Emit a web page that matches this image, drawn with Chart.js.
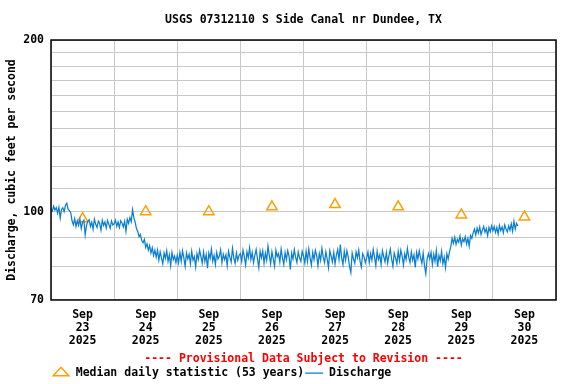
<!DOCTYPE html>
<html>
<head>
<meta charset="utf-8">
<script src="https://cdn.jsdelivr.net/npm/chart.js@4.4.1/dist/chart.umd.min.js"></script>
<style>
  html, body { margin:0; padding:0; background:#fff; }
  #wrap { width:576px; height:384px; }
</style>
</head>
<body>
<div id="wrap"><canvas id="chart" width="576" height="384"></canvas></div>
<script>
// ---- data ----
const chartTitle = "USGS 07312110 S Side Canal nr Dundee, TX";
const yTitle = "Discharge, cubic feet per second";
const provisionalNote = "---- Provisional Data Subject to Revision ----";
const medianLabel = "Median daily statistic (53 years)";
const dischargeLabel = "Discharge";

const monthLabel = "Sep";
const yearLabel = "2025";
const dayLabels = ["23", "24", "25", "26", "27", "28", "29", "30"];

const yTicks = [70, 80, 90, 100, 110, 120, 130, 140, 150, 160, 170, 180, 190, 200];
const yLabeled = [70, 100, 200];

// median daily statistic, one per day (plotted at noon)
const medianValues = [97.2, 100.0, 100.0, 102.0, 102.9, 102.0, 98.7, 97.9];

// discharge, 30-minute readings, one array per day
const stepDays = 0.5 / 24;
const dischargeSep23 = [
  101.2, 100.2, 102.2, 100.6, 101.7, 99.4, 101.8, 97.4, 100.9, 101.6, 100.0, 102.6, 103.4, 101.0, 100.4, 99.6,
  96.4, 94.8, 97.2, 94.2, 96.4, 94.6, 97.0, 93.4, 95.8, 96.6, 91.0, 94.6, 96.2, 96.8, 94.2, 95.8,
  93.2, 97.0, 95.0, 93.8, 96.2, 95.4, 92.8, 96.6, 94.6, 95.9, 93.6, 96.5, 95.0, 93.5, 96.3, 94.8
];
const dischargeSep24 = [
  95.2, 96.6, 94.2, 95.9, 93.8, 96.4, 95.5, 94.0, 96.2, 92.4, 97.0, 95.4, 97.6, 96.0, 100.8, 97.6,
  95.8, 93.4, 92.2, 90.4, 91.2, 89.0, 88.2, 89.4, 86.6, 87.8, 85.6, 87.2, 84.6, 86.4, 83.8, 85.6,
  83.2, 85.6, 82.2, 85.0, 83.0, 81.0, 84.6, 82.8, 85.4, 81.8, 84.0, 80.4, 84.8, 82.4, 83.6, 81.4
];
const dischargeSep25 = [
  83.8, 81.4, 84.8, 81.8, 85.4, 83.0, 80.2, 84.6, 82.6, 84.2, 81.0, 85.2, 82.2, 83.4, 80.0, 84.4,
  82.4, 85.6, 83.4, 81.2, 85.0, 81.8, 84.0, 79.6, 84.6, 82.8, 86.0, 81.8, 83.8, 80.8, 84.8, 82.6,
  83.6, 85.8, 81.4, 84.2, 82.4, 84.0, 80.4, 85.2, 83.2, 81.6, 86.2, 83.0, 81.2, 84.6, 82.2, 83.8
];
const dischargeSep26 = [
  84.4, 81.8, 85.6, 83.4, 80.6, 85.0, 83.0, 86.4, 82.4, 84.8, 81.4, 83.8, 85.8, 82.6, 79.8, 85.2,
  83.0, 85.4, 81.2, 84.6, 82.2, 87.0, 83.8, 81.0, 85.0, 82.6, 80.2, 85.6, 83.4, 84.4, 81.6, 86.0,
  83.0, 80.8, 84.8, 82.4, 85.4, 83.6, 79.2, 84.6, 82.6, 85.8, 83.2, 81.4, 85.0, 83.0, 81.8, 85.2
];
const dischargeSep27 = [
  83.6, 81.2, 85.2, 81.8, 86.0, 83.0, 80.6, 84.8, 82.4, 85.6, 83.8, 80.4, 84.4, 82.2, 86.2, 83.2,
  81.4, 85.0, 82.6, 79.8, 85.4, 83.6, 81.6, 84.8, 81.0, 84.0, 85.8, 82.4, 87.6, 83.0, 80.8, 85.2,
  82.2, 85.4, 83.2, 80.2, 78.2, 84.6, 82.6, 81.2, 85.0, 83.0, 85.6, 81.8, 80.0, 84.4, 83.4, 81.4
];
const dischargeSep28 = [
  83.0, 85.0, 81.4, 84.4, 82.2, 85.8, 83.2, 80.4, 85.2, 82.4, 84.0, 80.8, 85.4, 83.4, 81.6, 84.8,
  81.2, 83.8, 86.0, 82.6, 80.2, 84.6, 83.0, 81.0, 85.2, 82.0, 85.6, 83.6, 80.6, 84.4, 82.4, 86.2,
  83.2, 81.4, 85.0, 82.2, 84.0, 79.8, 84.8, 82.6, 85.4, 83.0, 81.2, 84.6, 80.4, 77.8, 82.6, 84.4
];
const dischargeSep29 = [
  82.6, 84.8, 80.8, 84.2, 81.8, 85.4, 80.0, 83.8, 82.0, 85.2, 81.0, 83.2, 79.8, 84.4, 82.6, 85.0,
  86.8, 89.8, 88.0, 90.2, 87.6, 89.4, 88.4, 90.6, 87.4, 89.6, 88.6, 90.4, 87.8, 89.8, 87.0, 90.8,
  89.8, 91.8, 93.2, 91.0, 93.6, 91.8, 94.0, 91.2, 92.8, 94.2, 92.0, 93.4, 90.8, 93.8, 92.2, 94.4
];
const dischargeSep30 = [
  92.6, 94.2, 92.0, 93.8, 91.4, 94.6, 92.6, 94.0, 91.8, 94.8, 93.2, 92.2, 94.4, 92.8, 95.2, 92.4,
  96.2, 93.2, 95.4, 94.4
];

// ---- styles ----
const FONT = { family: "'DejaVu Sans Mono', 'Liberation Mono', monospace", size: 11.5, weight: "bold", lineHeight: 1.15 };
const GRID = "#c8c8c8";
const BLUE = "#0a7fd2";
const ORANGE = "#ffa000";

const discharge = [].concat(dischargeSep23, dischargeSep24, dischargeSep25, dischargeSep26,
  dischargeSep27, dischargeSep28, dischargeSep29, dischargeSep30);
const dischargePts = discharge.map((v, i) => ({ x: i * stepDays, y: v }));
const medianPts = medianValues.map((v, i) => ({ x: i + 0.5, y: v }));

const isHalf = v => Math.abs(v - Math.floor(v) - 0.5) < 1e-6;

// black frame round the plot area
const framePlugin = {
  id: "frame",
  afterDraw(chart) {
    const a = chart.chartArea, ctx = chart.ctx;
    ctx.save();
    ctx.strokeStyle = "#000";
    ctx.lineWidth = 1.5;
    ctx.strokeRect(a.left, a.top, a.right - a.left, a.bottom - a.top);
    ctx.restore();
  }
};

new Chart(document.getElementById("chart"), {
  type: "line",
  data: {
    datasets: [
      {
        label: medianLabel, data: medianPts, order: 1,
        showLine: false, pointStyle: "triangle", pointRadius: 6, pointHoverRadius: 6,
        borderColor: ORANGE, backgroundColor: "rgba(0,0,0,0)", pointBorderWidth: 1.5
      },
      {
        label: dischargeLabel, data: dischargePts, order: 0,
        borderColor: BLUE, backgroundColor: BLUE, borderWidth: 1.25,
        pointRadius: 0, pointStyle: "line", tension: 0
      }
    ]
  },
  options: {
    responsive: false,
    animation: false,
    devicePixelRatio: 1,
    // legend box carries a fixed 10px tail, let it run just past the bottom edge
    layout: { padding: { left: 0, right: 20, top: 0, bottom: -4.75 } },
    plugins: {
      title: {
        display: true, text: chartTitle, color: "#000", font: FONT,
        fullSize: false, padding: { top: 13.4, bottom: 13.4 }
      },
      subtitle: {
        display: true, text: provisionalNote, color: "#ff0000", font: FONT,
        position: "bottom", fullSize: false, weight: 500, padding: { top: 4.4, bottom: 0.65 }
      },
      legend: {
        position: "bottom", fullSize: false, align: "start",
        labels: {
          usePointStyle: true, pointStyleWidth: 18, boxHeight: 8, padding: 1,
          color: "#000", font: FONT,
          sort: (a, b) => a.datasetIndex - b.datasetIndex
        }
      },
      tooltip: { enabled: false }
    },
    scales: {
      x: {
        type: "linear", min: 0, max: dayLabels.length,
        afterFit: s => { s.height = 48; },
        border: { display: false },
        grid: {
          drawTicks: false,
          color: c => (c.tick && Number.isInteger(c.tick.value)) ? GRID : "rgba(0,0,0,0)"
        },
        ticks: {
          stepSize: 0.5, autoSkip: false, maxRotation: 0, padding: 8,
          color: "#000", font: FONT,
          callback: v => isHalf(v) ? [monthLabel, dayLabels[Math.floor(v)], yearLabel] : ""
        }
      },
      y: {
        type: "logarithmic", min: yTicks[0], max: yTicks[yTicks.length - 1],
        afterBuildTicks: s => { s.ticks = yTicks.map(v => ({ value: v })); },
        afterFit: s => { s.width = 51; },
        border: { display: false },
        grid: { drawTicks: false, color: GRID },
        title: { display: true, text: yTitle, color: "#000", font: FONT, padding: { top: 5, bottom: 0 } },
        ticks: {
          autoSkip: false, padding: 7, color: "#000", font: FONT,
          callback: v => yLabeled.includes(v) ? String(v) : ""
        }
      }
    }
  },
  plugins: [framePlugin]
});
</script>
</body>
</html>
